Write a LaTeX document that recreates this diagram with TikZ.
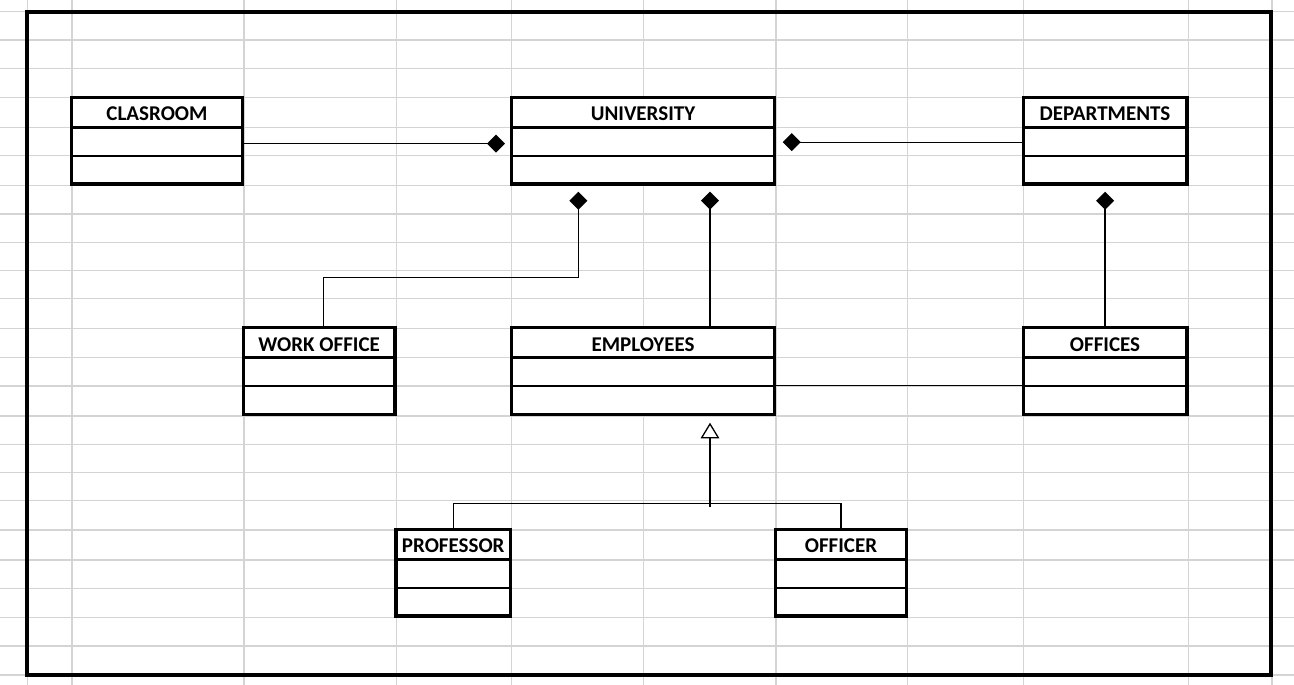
\documentclass[tikz,border=0pt]{standalone}
\usepackage{fontspec}
\setmainfont{Carlito}
\usetikzlibrary{calc,arrows.meta}

\definecolor{gridgray}{HTML}{D4D4D4}

\tikzset{
	grid line/.style={draw=gridgray, line width=1.3pt},
	frame/.style={line width=4pt},
	classbox/.style={draw, fill=white, line width=3.5pt, rectangle,
		inner sep=0pt, outer sep=0pt, anchor=north west},
	classname/.style={font=\fontsize{21}{25}\selectfont\bfseries,
		anchor=base, inner sep=0pt},
	assoc/.style={line width=1.4pt},
	compose/.style={line width=1.4pt, -{Diamond[length=18pt,width=18pt]}},
	inherit/.style={line width=1.4pt,
		-{Triangle[open,length=15.6pt,width=18.6pt,line width=1.3pt]}},
}

% #1 name, #2 x, #3 y, #4 width, #5 height, #6 title
\newcommand{\umlclass}[6]{%
	\node[classbox, minimum width=#4pt, minimum height=#5pt] (#1) at (#2,#3) {};
	\node[classname] (#1-name) at ($(#1.north)+(0,23.3)$) {#6};
	\draw[line width=3pt] ($(#1.north west)+(0,29.5)$) -- ($(#1.north east)+(0,29.5)$);
	\draw[line width=2pt] ($(#1.north west)+(0,58)$) -- ($(#1.north east)+(0,58)$);
}

\begin{document}
\begin{tikzpicture}[x=1pt, y=-1pt]

	\useasboundingbox (0,0) rectangle (1294,685);

	% sheet grid
	\foreach \gx in {27.7,72,244,396.7,511.7,643.7,776,907.7,1023.3,1188.3,1272}
		\draw[grid line] (\gx,0) -- (\gx,685);
	\foreach \gy in {11.7,40,68.3,97.7,127.7,155.7,185.7,214,242.3,270.3,298.3,
		328.3,357.7,386,416,444.3,472.3,500.7,530,560,588.3,617.3,646,675}
		\draw[grid line] (0,\gy) -- (1294,\gy);

	% outer frame
	\draw[frame] (27.2,11.7) rectangle (1271,674.7);

	% classes
	\umlclass{clasroom}{71.5}{97.7}{171}{86.5}{CLASROOM}
	\umlclass{university}{511.3}{97.7}{263.4}{86.5}{UNIVERSITY}
	\umlclass{departments}{1023.3}{97.7}{163.5}{86.5}{DEPARTMENTS}
	\umlclass{workoffice}{243.3}{327.7}{151.7}{86.6}{WORK OFFICE}
	\umlclass{employees}{511.3}{327.7}{263.4}{86.6}{EMPLOYEES}
	\umlclass{offices}{1023.3}{327.7}{163.5}{86.6}{OFFICES}
	\umlclass{professor}{396}{529.5}{114.5}{86.5}{PROFESSOR}
	\umlclass{officer}{775.5}{529.5}{131}{86.5}{OFFICER}

	% composition
	\draw[compose] ($(clasroom.north east)+(0,46)$)
		-- ($(university.north west)+(-6.3,46)$);
	\draw[compose] ($(departments.north west)+(0,44.5)$)
		-- ($(university.north east)+(8,44.5)$);

	\coordinate (wo-turn) at (578.3,277.3);
	\draw[compose] ($(workoffice.north)+(4.5,0)$) |- (wo-turn)
		-- ($(university.south west)+(67,7.5)$);
	\draw[compose] ($(employees.north)+(67,0)$)
		-- ($(university.south)+(67,7.5)$);
	\draw[compose] (offices.north) -- ($(departments.south)+(0,7.5)$);

	% association
	\draw[assoc] ($(employees.north east)+(0,57.5)$)
		-- ($(offices.north west)+(0,57.5)$);

	% generalization
	\coordinate (gen) at ($(employees.south)+(67,89.2)$);
	\draw[assoc] (professor.north) |- (officer.north |- gen) -- (officer.north);
	\draw[inherit] ($(gen)+(0,3.5)$) -- ($(employees.south)+(67,8.4)$);

\end{tikzpicture}
\end{document}
